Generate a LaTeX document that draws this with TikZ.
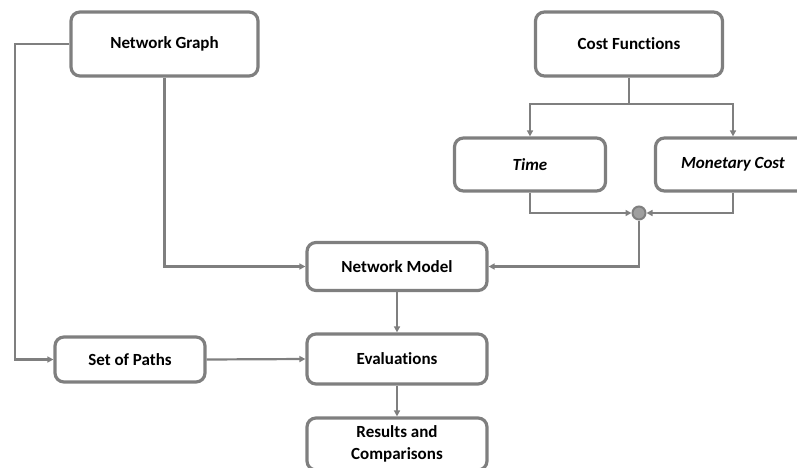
\documentclass[tikz,border=0pt]{standalone}
\usepackage{fontspec}
\setmainfont[Ligatures=NoCommon]{Carlito}
\usetikzlibrary{arrows.meta}
\definecolor{lg}{HTML}{7F7F7F}
\tikzset{
  box/.style={draw=lg, line width=3.2pt, rounded corners=9pt, fill=white, align=center, font=\bfseries\fontsize{17}{22}\selectfont, inner sep=0pt},
  conn/.style={draw=lg, line width=2.2pt},
  arr/.style={conn, -{Triangle[length=6pt,width=6pt]}},
}
\begin{document}
\begin{tikzpicture}[x=1pt,y=-1pt]
\useasboundingbox (0,0) rectangle (797,468);
\node[box, minimum width=187pt, minimum height=64pt] (ng) at (164.5,44) {Network Graph};
\node[box, minimum width=187pt, minimum height=64pt] (cf) at (629,44) {Cost Functions};
\node[box, minimum width=151pt, minimum height=53pt, font=\bfseries\itshape\fontsize{17}{22}\selectfont] (ti) at (530,164.5) {Time};
\node[box, minimum width=155pt, minimum height=53pt, font=\bfseries\itshape\fontsize{17}{22}\selectfont] (mc) at (733,164.5) {Monetary Cost};
\node[circle, draw=lg, fill=lg!75, line width=2pt, minimum size=13pt, inner sep=0pt] (j) at (639,213) {};
\node[box, minimum width=180pt, minimum height=48pt] (nm) at (397,266.5) {Network Model};
\node[box, minimum width=180pt, minimum height=50pt] (ev) at (397,359) {Evaluations};
\node[box, minimum width=180pt, minimum height=52pt] (rc) at (397,444) {Results and\\Comparisons};
\node[box, minimum width=150pt, minimum height=45pt] (sp) at (130,359.5) {Set of Paths};
\coordinate (cfb) at (629,104);
\draw[conn] (cf.south) -- (cfb);
\draw[arr] (cfb) -| (ti.north);
\draw[arr] (cfb) -| (mc.north);
\draw[arr] (ti.south) |- (j.west);
\draw[arr] (mc.south) |- (j.east);
\draw[arr] (j.south) |- (nm.east);
\draw[arr] (ng.south) |- (nm.west);
\coordinate (lft) at (15,44);
\draw[arr] (ng.west) -- (lft) |- (sp.west);
\draw[arr] (sp.east) -- (ev.west);
\draw[arr] (nm.south) -- (ev.north);
\draw[arr] (ev.south) -- (rc.north);
\end{tikzpicture}
\end{document}
